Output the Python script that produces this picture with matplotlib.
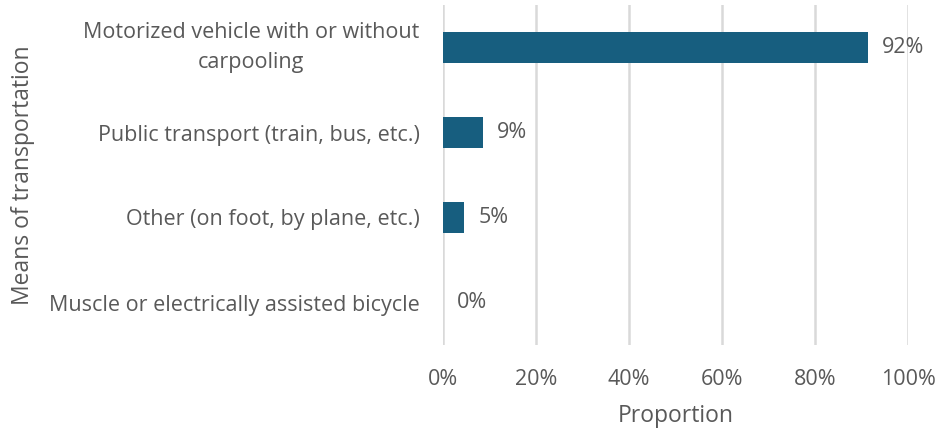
import matplotlib
matplotlib.use("Agg")
import matplotlib.pyplot as plt
from matplotlib.ticker import PercentFormatter

categories = ["Motorized vehicle with or without\ncarpooling",
              "Public transport (train, bus, etc.)",
              "Other (on foot, by plane, etc.)",
              "Muscle or electrically assisted bicycle"]
values = [0.914, 0.086, 0.046, 0.001]
value_labels = ["92%", "9%", "5%", "0%"]
xticks = [0, 0.2, 0.4, 0.6, 0.8, 1.0]

plt.rcParams['font.family'] = ['Open Sans', 'DejaVu Sans']
txt = '#595959'
bar_color = '#175E7F'

fig = plt.figure(figsize=(9.36, 4.30), dpi=100)
ax = fig.add_axes([443/936, 1-345/430, 465/936, 340/430])

y = list(range(len(categories)))
ax.barh(y, values, height=0.36, color=bar_color, zorder=3)
for yi, v, lab in zip(y, values, value_labels):
    ax.annotate(lab, (v, yi), xytext=(10, 0), textcoords='offset points',
                va='center', ha='left', fontsize=15.5, color=txt)

ax.set_xlim(0, 1.0)
ax.set_ylim(len(categories)-0.5, -0.5)
ax.set_xticks(xticks)
ax.xaxis.set_major_formatter(PercentFormatter(1.0, decimals=0))
ax.set_yticks(y)
ax.set_yticklabels(categories, multialignment='center', linespacing=1.6)
for t in ax.get_yticklabels():
    if '\n' in t.get_text():
        t.set_va('center')
ax.tick_params(axis='both', length=0, labelsize=15.5, labelcolor=txt)
ax.tick_params(axis='x', pad=17)
ax.tick_params(axis='y', pad=17)
ax.grid(axis='x', color='#D9D9D9', linewidth=1.8, zorder=0)
for s in ax.spines.values():
    s.set_visible(False)

ax.set_xlabel('Proportion', fontsize=16.5, color=txt, labelpad=10)
ax.set_ylabel('Means of transportation', fontsize=16.5, color=txt)
ax.yaxis.set_label_coords(-(443 - 35) / 465, 0.5)

fig.savefig('out.png', dpi=100)
